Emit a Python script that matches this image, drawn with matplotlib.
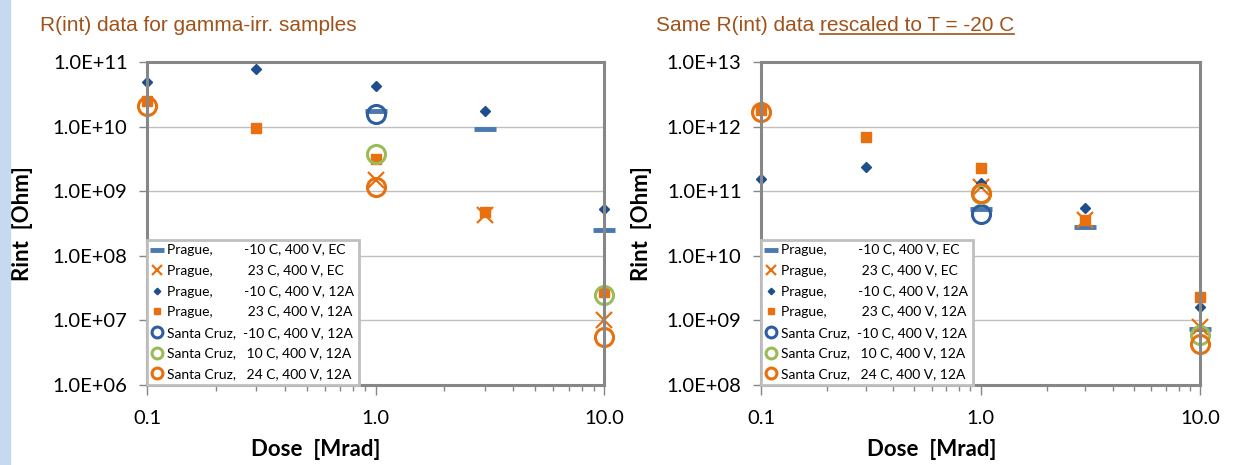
import numpy as np
import matplotlib
matplotlib.use("Agg")
import matplotlib.pyplot as plt
from matplotlib.patches import Rectangle
from matplotlib.lines import Line2D
from matplotlib.ticker import FuncFormatter, LogLocator, NullFormatter

plt.rcParams['font.family'] = ['Lato', 'DejaVu Sans']

# dose points [Mrad]
dose_ec = [1.0, 3.0, 10.0]
dose_12a = [0.1, 0.3, 1.0, 3.0, 10.0]
dose_sc_m10 = [1.0]
dose_sc_10 = [1.0, 10.0]
dose_sc_24 = [0.1, 1.0, 10.0]

# left panel: measured Rint [Ohm]
raw_prague_m10_ec = [1.74e10, 9.3e9, 2.5e8]
raw_prague_23_ec = [1.49e9, 4.3e8, 1.0e7]
raw_prague_m10_12a = [4.95e10, 7.8e10, 4.3e10, 1.76e10, 5.3e8]
raw_prague_23_12a = [2.5e10, 9.4e9, 3.1e9, 4.7e8, 2.8e7]
raw_sc_m10 = [1.57e10]
raw_sc_10 = [3.7e9, 2.5e7]
raw_sc_24 = [2.1e10, 1.17e9, 5.5e6]

# right panel: rescaled to -20 C
res_prague_m10_ec = [5.25e10, 2.8e10, 7.3e8]
res_prague_23_ec = [1.17e11, 3.6e10, 7.9e8]
res_prague_m10_12a = [1.53e11, 2.4e11, 1.35e11, 5.4e10, 1.6e9]
res_prague_23_12a = [1.8e12, 7.0e11, 2.26e11, 3.6e10, 2.3e9]
res_sc_m10 = [4.4e10]
res_sc_10 = [9.0e10, 5.9e8]
res_sc_24 = [1.7e12, 9.5e10, 4.3e8]

labels = ["Prague,         -10 C, 400 V, EC",
          "Prague,          23 C, 400 V, EC",
          "Prague,         -10 C, 400 V, 12A",
          "Prague,          23 C, 400 V, 12A",
          "Santa Cruz,  -10 C, 400 V, 12A",
          "Santa Cruz,   10 C, 400 V, 12A",
          "Santa Cruz,   24 C, 400 V, 12A"]

blue_dash = '#4A78B0'
orange = '#E8700E'
navy = '#1F4E8C'
circ_blue = '#2E5E9E'
green = '#9BBB59'
frame = '#878787'

fig = plt.figure(figsize=(12.45, 4.65), dpi=100)
fig.patches.append(Rectangle((0, 0), 10 / 1245, 1, transform=fig.transFigure,
                             color='#C6D9F0', zorder=0))


def panel(ax, vals, ylim, xlab_x, ylab_x, leg_w):
    pm10ec, p23ec, pm10, p23, scm10, sc10, sc24 = vals
    kw = dict(linestyle='none', clip_on=False)
    ax.plot(dose_ec, pm10ec, marker='_', ms=16, mew=3.5, color=blue_dash, label=labels[0], **kw)
    ax.plot(dose_ec, p23ec, marker='x', ms=11, mew=1.6, color=orange, label=labels[1], **kw)
    ax.plot(dose_12a, pm10, marker='D', ms=5.5, color=navy, label=labels[2], **kw)
    ax.plot(dose_12a, p23, marker='s', ms=7, color=orange, label=labels[3], **kw)
    ax.plot(dose_sc_m10, scm10, marker='o', ms=13, mew=2.2, mfc='none', color=circ_blue, label=labels[4], **kw)
    ax.plot(dose_sc_10, sc10, marker='o', ms=13, mew=2.2, mfc='none', color=green, label=labels[5], **kw)
    ax.plot(dose_sc_24, sc24, marker='o', ms=13, mew=2.2, mfc='none', color=orange, label=labels[6], **kw)

    ax.set_xscale('log')
    ax.set_yscale('log')
    ax.set_xlim(0.1, 10)
    ax.set_ylim(*ylim)
    ax.yaxis.set_major_locator(LogLocator(base=10, numticks=20))
    ax.yaxis.set_minor_locator(LogLocator(base=10, subs=[], numticks=20))
    ax.yaxis.set_major_formatter(FuncFormatter(lambda v, p: f"{v:.1E}"))
    ax.xaxis.set_major_formatter(FuncFormatter(lambda v, p: f"{v:.1f}"))
    ax.xaxis.set_minor_formatter(NullFormatter())
    ax.grid(axis='y', which='major', color='#C0C0C0', lw=1)
    ax.set_axisbelow(True)
    for s in ax.spines.values():
        s.set_color(frame)
        s.set_linewidth(2.2)
    ax.tick_params(axis='y', which='major', length=6, width=1, color=frame,
                   labelsize=14.5, pad=8)
    ax.tick_params(axis='x', which='major', length=7, width=1, color=frame,
                   labelsize=14.5, pad=11)
    ax.tick_params(axis='x', which='minor', length=4, width=1, color=frame)

    ax.set_xlabel('Dose  [Mrad]', fontsize=16, fontweight='bold')
    ax.xaxis.set_label_coords(xlab_x, -0.168)
    ax.set_ylabel('Rint  [Ohm]', fontsize=16, fontweight='bold')
    ax.yaxis.set_label_coords(ylab_x, 0.5)

    leg = ax.legend(loc='lower left', bbox_to_anchor=(0, 0, leg_w, 1), borderaxespad=0,
                    fontsize=10, markerscale=0.6, handlelength=0.8, handletextpad=0.3,
                    labelspacing=0.62, borderpad=0.35, fancybox=False, framealpha=1)
    leg.get_frame().set_edgecolor('#BFBFBF')
    leg.get_frame().set_linewidth(2)


ax1 = fig.add_axes([147 / 1245, 1 - 385 / 465, 457 / 1245, 323 / 465])
panel(ax1, [raw_prague_m10_ec, raw_prague_23_ec, raw_prague_m10_12a, raw_prague_23_12a,
            raw_sc_m10, raw_sc_10, raw_sc_24], (1e6, 1e11), 0.37, -0.25, 0.473)

ax2 = fig.add_axes([761 / 1245, 1 - 385 / 465, 439 / 1245, 323 / 465])
panel(ax2, [res_prague_m10_ec, res_prague_23_ec, res_prague_m10_12a, res_prague_23_12a,
            res_sc_m10, res_sc_10, res_sc_24], (1e8, 1e13), 0.39, -0.248, 0.474)

title_col = '#A0521A'
tfont = ['Liberation Sans Narrow', 'Liberation Sans']
fig.text(40 / 1245, 1 - 31 / 465, 'R(int) data for gamma-irr. samples', fontsize=15,
         color=title_col, family=tfont, va='baseline')
t1 = fig.text(656 / 1245, 1 - 31 / 465, 'Same R(int) data ', fontsize=15,
              color=title_col, family=tfont, va='baseline')
fig.canvas.draw()
r = fig.canvas.get_renderer()
bb = t1.get_window_extent(r)
t2 = fig.text(bb.x1 / fig.bbox.width, 1 - 31 / 465, 'rescaled to T = -20 C', fontsize=15,
              color=title_col, family=tfont, va='baseline')
fig.canvas.draw()
bb2 = t2.get_window_extent(r)
fig.lines.append(Line2D([bb2.x0 / fig.bbox.width, bb2.x1 / fig.bbox.width],
                        [1 - 34 / 465, 1 - 34 / 465], transform=fig.transFigure,
                        color=title_col, lw=1.2))

fig.savefig('out.png', dpi=100)
